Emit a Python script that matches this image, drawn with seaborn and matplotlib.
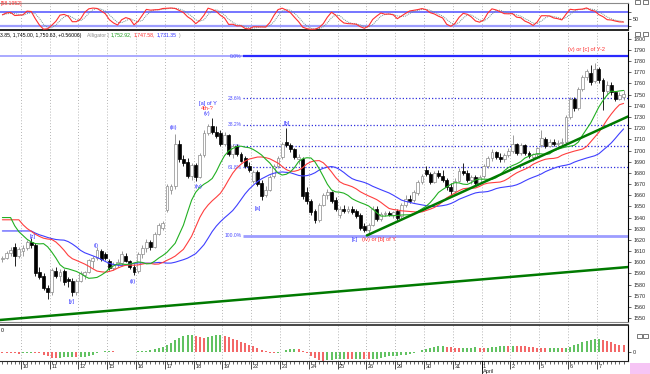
import numpy as np
import pandas as pd
import matplotlib
matplotlib.use("Agg")
import matplotlib.pyplot as plt
import matplotlib.transforms as mtransforms
from matplotlib.patches import Rectangle
from matplotlib.lines import Line2D
import seaborn as sns

# hourly bars, 7 per session; first 5 bars are the tail of the 9th
opens = [1603, 1604, 1608, 1614, 1606,
         1610, 1613, 1618, 1615, 1591, 1588, 1577,
         1573, 1592, 1588, 1592, 1585, 1583, 1573,
         1583, 1589, 1591, 1601, 1604, 1610, 1607,
         1601, 1595, 1598, 1599, 1606, 1601, 1596,
         1592, 1607, 1613, 1618, 1614, 1625, 1631,
         1647, 1665, 1668, 1706, 1692, 1690, 1677,
         1687, 1676, 1696, 1716, 1722, 1717, 1716,
         1706, 1714, 1697, 1704, 1697, 1693, 1686,
         1673, 1681, 1671, 1660, 1665, 1677, 1686,
         1694, 1708, 1705, 1701, 1692, 1692, 1663,
         1655, 1646, 1638, 1651, 1660, 1663, 1656,
         1642, 1648, 1646, 1648, 1646, 1642, 1632,
         1629, 1633, 1648, 1639, 1643, 1644, 1642,
         1646, 1641, 1651, 1657, 1656, 1662, 1672,
         1683, 1679, 1672, 1680, 1677, 1674, 1667,
         1664, 1673, 1682, 1680, 1674, 1676, 1671,
         1677, 1686, 1693, 1699, 1694, 1692, 1696,
         1700, 1706, 1698, 1705, 1698, 1694, 1697,
         1705, 1710, 1704, 1708, 1706, 1707, 1708,
         1730, 1746, 1738, 1755, 1766, 1769, 1762,
         1773, 1763, 1753, 1759, 1752, 1746, 1748]
highs = [1606, 1610, 1614, 1617, 1614,
         1615, 1620, 1622, 1617, 1596, 1590, 1580,
         1595, 1596, 1594, 1594, 1587, 1586, 1585,
         1592, 1592, 1603, 1606, 1614, 1612, 1609,
         1603, 1600, 1603, 1610, 1608, 1602, 1598,
         1609, 1615, 1621, 1620, 1627, 1635, 1637,
         1670, 1670, 1715, 1709, 1696, 1693, 1689,
         1689, 1698, 1718, 1724, 1729, 1722, 1718,
         1717, 1715, 1706, 1706, 1699, 1695, 1690,
         1683, 1683, 1674, 1668, 1678, 1688, 1695,
         1708, 1720, 1707, 1702, 1697, 1694, 1667,
         1657, 1648, 1653, 1662, 1666, 1664, 1658,
         1650, 1651, 1650, 1650, 1648, 1644, 1635,
         1635, 1650, 1650, 1645, 1646, 1646, 1646,
         1648, 1653, 1660, 1660, 1665, 1674, 1679,
         1686, 1681, 1682, 1683, 1683, 1675, 1671,
         1675, 1684, 1688.5, 1683, 1678, 1678, 1678,
         1688, 1695, 1701, 1700, 1698, 1698, 1702,
         1714, 1707, 1707, 1706, 1700, 1698, 1703,
         1718, 1712, 1710, 1710, 1709, 1711, 1732,
         1748, 1748, 1757, 1768, 1773, 1776.6, 1778,
         1775, 1765, 1762, 1761, 1753, 1752, 1753.85]
lows = [1600, 1603, 1606, 1597, 1604,
        1606, 1611, 1613, 1588, 1585, 1575, 1567.5,
        1571, 1586, 1583, 1580, 1578, 1570, 1571,
        1582, 1585, 1590, 1595, 1602, 1601, 1602,
        1593, 1593, 1596, 1597, 1600, 1594, 1589,
        1590, 1604, 1609, 1611, 1613, 1624, 1629,
        1645, 1661, 1666, 1690, 1686, 1675, 1674,
        1673, 1675, 1694, 1714, 1715, 1711, 1704,
        1704, 1695, 1693, 1695, 1690, 1684, 1681,
        1671, 1668, 1655.5, 1658, 1664, 1675, 1684,
        1692, 1703, 1699, 1692, 1688, 1657, 1652,
        1642, 1635, 1636, 1650, 1657, 1653, 1646,
        1640, 1644, 1644, 1643, 1640, 1629, 1627,
        1624, 1632, 1637, 1637, 1641, 1641, 1640,
        1638, 1640, 1649, 1653, 1654, 1660, 1670,
        1677, 1670, 1671, 1675, 1672, 1665, 1660,
        1662, 1672, 1678, 1672, 1670, 1669, 1670,
        1675, 1684, 1691, 1692, 1690, 1690, 1694,
        1698, 1696, 1696, 1696, 1693, 1691, 1695,
        1703, 1702, 1703, 1704, 1704, 1705, 1706,
        1728, 1735, 1736, 1753, 1763, 1759, 1760,
        1760, 1736, 1750, 1750, 1744, 1745, 1745]
closes = [1604, 1608, 1611, 1606, 1612,
          1613, 1618, 1615, 1590, 1587, 1577, 1573,
          1593, 1588, 1591, 1582, 1583, 1573, 1583,
          1590, 1591, 1602, 1604, 1611, 1603, 1604,
          1595, 1598, 1600, 1607, 1601, 1596, 1591,
          1607, 1613, 1618, 1614, 1625, 1633, 1635,
          1668, 1668, 1706, 1692, 1689, 1677, 1687,
          1676, 1696, 1716, 1722, 1717, 1713, 1706,
          1714, 1697, 1704, 1697, 1691, 1686, 1683,
          1681, 1670, 1659, 1665, 1676, 1686, 1693,
          1706, 1705, 1701, 1694, 1694, 1659, 1655,
          1645, 1638, 1651, 1660, 1663, 1655, 1648,
          1648, 1646, 1648, 1645, 1641, 1631, 1629,
          1633, 1648, 1639, 1643, 1644, 1642, 1645,
          1640, 1651, 1657, 1655, 1663, 1672, 1677,
          1679, 1672, 1680, 1677, 1674, 1667, 1664,
          1673, 1682, 1680, 1674, 1676, 1671, 1676,
          1686, 1693, 1699, 1694, 1692, 1696, 1700,
          1706, 1698, 1705, 1698, 1695, 1697, 1702,
          1711, 1704, 1708, 1706, 1707, 1708, 1730,
          1746, 1738, 1755, 1766, 1771, 1761, 1773,
          1763, 1753, 1759, 1752, 1746, 1750, 1750.63]

day_labels = ["10", "11", "12", "15", "16", "17", "18", "19", "22", "23", "24",
              "25", "26", "29", "30", "31", "1", "2", "5", "6", "7"]
first_day_bar = 5
bars_per_day = 7

# indicator state just before the first bar
jaw_seed, teeth_seed, lips_seed = 1628, 1638, 1640
ao_seed = 1616

fib_top = 1784.6
fib_bottom = 1623.5
fib_levels = [0.0, 23.6, 38.2, 50.0, 61.8, 100.0]
fib_start = 58.5

trend_long_x = [-0.6, 152.1]
trend_long_y = [1548.3, 1595.7]
trend_short_x = [88.6, 152.1]
trend_short_y = [1624.0, 1730.5]

waves = [
    (7.4, 1622.6, "[z]", "blue"), (16.9, 1564.7, "[y]", "blue"),
    (22.8, 1615.4, "(i)", "blue"), (31.7, 1583.2, "(ii)", "blue"),
    (41.5, 1720.2, "(iii)", "blue"), (47.8, 1667.4, "(iv)", "blue"),
    (49.7, 1732.7, "(v)", "blue"), (49.7, 1737.2, "4th-?", "red"),
    (49.9, 1741.8, "[a] of Y", "blue"), (62.1, 1647.7, "[a]", "blue"),
    (69.2, 1724.6, "[b]", "blue"), (85.7, 1620.3, "[c]", "blue"),
    (141.9, 1790.0, "(v) or [c] of Y-2", "red"),
]
red_note = (87.3, 1620.3, "(iv) or [b] of Y")

sns.set_style("white")
plt.rcParams["font.family"] = ["Liberation Sans", "DejaVu Sans"]

W, H = 650, 374
fig = plt.figure(figsize=(6.5, 3.74), dpi=100)


def box(x0, y0, x1, y1):
    return [x0 / W, 1 - y1 / H, (x1 - x0) / W, (y1 - y0) / H]


ax_osc = fig.add_axes(box(0, 3, 628, 30))
ax = fig.add_axes(box(0, 32, 628, 322))
ax_ao = fig.add_axes(box(0, 325, 628, 361))

df = pd.DataFrame({"o": opens, "h": highs, "l": lows, "c": closes})
n = len(df)
bars = np.arange(n)
xlim = (-0.58, 152.07)
bounds = [first_day_bar - 0.5 + bars_per_day * i for i in range(len(day_labels))]

BLUE, RED = "#2f2fff", "#ff2b2b"
col = {"blue": BLUE, "red": RED}

for a in (ax_osc, ax, ax_ao):
    a.set_xlim(*xlim)
    for b in bounds:
        a.axvline(b, color="#9c9c9c", lw=0.6, ls=(0, (1, 2.5)), zorder=0)
    for s in a.spines.values():
        s.set_visible(False)
    a.spines["right"].set_visible(True)
    a.spines["right"].set_color("black")
    a.spines["right"].set_linewidth(0.8)
    a.yaxis.tick_right()
    a.tick_params(axis="y", labelsize=3.9, length=2.5, width=0.5, pad=1.2)
    a.tick_params(axis="x", bottom=False, labelbottom=False)

# ---- main panel ----
ax.set_ylim(1546.5, 1806.1)
ax.set_yticks(range(1550, 1801, 10))
ax.spines["bottom"].set_visible(True)
ax.spines["bottom"].set_color("#8a8a8a")
ax.spines["bottom"].set_linewidth(0.8)

rng = fib_top - fib_bottom
fib_prices = [fib_top - rng * lv / 100 for lv in fib_levels]
ax.hlines(fib_prices[0], xlim[0], fib_start, color="#a9a9ff", lw=1.4, zorder=1)
ax.hlines(fib_prices[0], fib_start, xlim[1], color="#2a2aff", lw=1.6, zorder=1)
ax.hlines(fib_prices[-1], fib_start, xlim[1], color="#9d9dff", lw=2.0, zorder=1)
ax.hlines(fib_prices[1:-1], fib_start, xlim[1], color="#2f2fdd", lw=0.9,
          ls=(0, (1, 1.6)), zorder=1)
for lv, p in zip(fib_levels, fib_prices):
    ax.text(fib_start - 0.4, p, f"{lv:.1f}%", color="#4a4aff", fontsize=3.6,
            ha="right", va="center", zorder=1)

up = df.c >= df.o
edge = np.where(up, "#8a8a8a", "black")
ax.vlines(bars, df.l, df.h, colors=edge, lw=0.6, zorder=2)
body = (df.c - df.o).abs().clip(lower=0.4)
ax.bar(bars, body, bottom=df[["o", "c"]].min(axis=1), width=0.7,
       color=np.where(up, "white", "black"), edgecolor=edge, linewidth=0.5, zorder=2.1)

# alligator: smoothed median price, shifted right
med = (df.h + df.l) / 2


def smma(vals, period, seed, shift):
    out, s = [], seed
    for v in vals:
        s = (s * (period - 1) + v) / period
        out.append(s)
    return np.array([seed] * shift + out[:len(out) - shift])


jaw = smma(med, 13, jaw_seed, 8)
teeth = smma(med, 8, teeth_seed, 5)
lips = smma(med, 5, lips_seed, 3)
for line, c in ((jaw, "#3f3fff"), (teeth, "#ff3f3f"), (lips, "#22b022")):
    sns.lineplot(x=bars, y=line, color=c, lw=0.8, ax=ax, zorder=3)

ax.plot(trend_long_x, trend_long_y, color="#007a00", lw=1.8, zorder=4)
ax.plot(trend_short_x, trend_short_y, color="#007a00", lw=1.8, zorder=4)

for bx, py, t, c in waves:
    ax.text(bx, py, t, color=col[c], fontsize=4.1, ha="center", va="center", zorder=5)
ax.text(red_note[0], red_note[1], red_note[2], color=RED, fontsize=4.1,
        ha="left", va="center", zorder=5)

# ---- top oscillator ----
lo = df.l.rolling(5, min_periods=1).min()
hi = df.h.rolling(5, min_periods=1).max()
k_line = 100 * (df.c - lo).rolling(3, min_periods=1).sum() / (hi - lo).rolling(3, min_periods=1).sum()
d_line = k_line.rolling(3, min_periods=1).mean()
ax_osc.set_ylim(1.6, 117.3)
ax_osc.axhline(80, color="#4f4fff", lw=1.1, zorder=1)
ax_osc.axhline(20, color="#9d9dff", lw=1.6, zorder=1)
sns.lineplot(x=bars, y=d_line.values, color="#6f8f8f", lw=0.7, ls=(0, (1, 1)), ax=ax_osc, zorder=2)
sns.lineplot(x=bars, y=k_line.values, color="#ff3030", lw=0.8, ax=ax_osc, zorder=3)
ax_osc.set_yticks([20, 50, 80])
ax_osc.set_yticklabels(["", "50", ""])
ax_osc.spines["top"].set_visible(True)
ax_osc.spines["top"].set_color("#8a8a8a")
ax_osc.spines["bottom"].set_visible(True)
ax_osc.spines["bottom"].set_linewidth(1.4)

# ---- awesome oscillator ----
padded = pd.concat([pd.Series([ao_seed] * 33), med], ignore_index=True)
ao_full = padded.rolling(5).mean() - padded.rolling(34).mean()
ao = ao_full.iloc[33:].reset_index(drop=True)
ao_col = np.where(ao_full.diff().iloc[33:].values > 0, "#33b033", "#f03a3a")
ax_ao.vlines(bars, 0, ao, colors=ao_col, lw=1.1, zorder=2)
s = ao.max() / 17
ax_ao.set_ylim(-9 * s, 27 * s)
ax_ao.set_yticks([0])
ax_ao.set_yticklabels(["0"])
ax_ao.spines["top"].set_visible(True)
ax_ao.spines["top"].set_linewidth(1.2)
ax_ao.spines["bottom"].set_visible(True)
ax_ao.spines["bottom"].set_linewidth(0.8)
ax_ao.set_xticks(bars, minor=True)
ax_ao.tick_params(axis="x", which="minor", bottom=True, length=2, width=0.5, direction="out")
ax_ao.set_xticks(bounds)
ax_ao.tick_params(axis="x", which="major", bottom=True, length=6, width=0.6, direction="out")

for a in (ax_osc, ax, ax_ao):
    a.set_xlabel("")
    a.set_ylabel("")
    a.xaxis.label.set_visible(False)
    a.yaxis.label.set_visible(False)

tr = mtransforms.blended_transform_factory(ax_ao.transData, fig.transFigure)
for b, lab in zip(bounds, day_labels):
    fig.text(b + 0.35, 1 - 366 / H, lab, transform=tr, fontsize=4.1, ha="left", va="center")
april = bounds[day_labels.index("1")]
fig.text(april + 0.35, 1 - 371 / H, "April", transform=tr, fontsize=4.1, ha="left", va="center")
fig.add_artist(Line2D([april, april], [1 - 361 / H, 0], transform=tr, color="black", lw=0.6))


# ---- header texts ----
def ftext(x, y, t, c="black", size=3.7):
    fig.text(x / W, 1 - y / H, t, color=c, fontsize=size, va="center", ha="left")


ftext(1, 4, "[58.1952]", RED)
ftext(0, 35, "3.85, 1,745.00, 1,750.63, +0.56006)")
ftext(87, 35, "Alligator (", "#8c8c8c")
ftext(111, 35, "1,752.92,", "#1a9a1a")
ftext(134, 35, "1,747.58,", RED)
ftext(157, 35, "1,731.35", BLUE)
ftext(178, 35, ")", "#8c8c8c")
ftext(1, 330, "0")

for (x0, y0) in [(635, 0), (643, 0), (635, 32), (643, 32), (637, 334), (643, 334)]:
    fig.add_artist(Rectangle((x0 / W, 1 - (y0 + 4) / H), 5 / W, 4 / H,
                             transform=fig.transFigure, facecolor="white",
                             edgecolor="#444444", lw=0.5))
fig.add_artist(Rectangle((630 / W, 0), 20 / W, 11 / H, transform=fig.transFigure,
                         facecolor="#f6c4f4", edgecolor="none"))

fig.savefig("out.png", dpi=100)
